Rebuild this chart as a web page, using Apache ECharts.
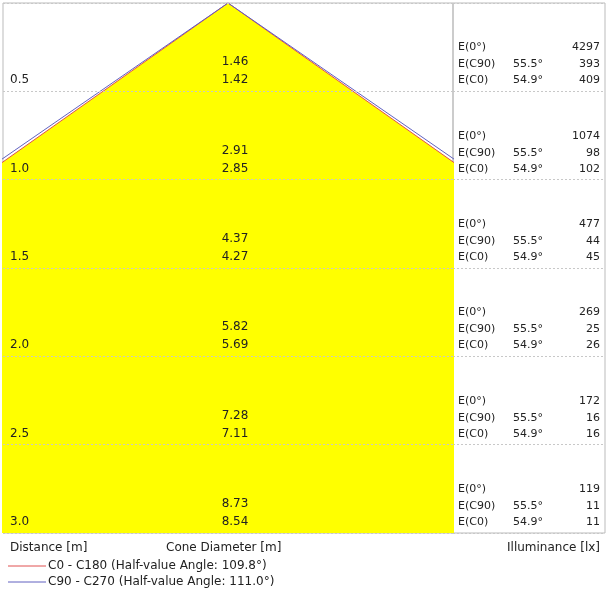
<!DOCTYPE html>
<html><head><meta charset="utf-8">
<script src="https://cdn.jsdelivr.net/npm/echarts@6/dist/echarts.min.js"></script>
<style>html,body{margin:0;padding:0;background:#fff}#c{width:608px;height:608px}</style>
</head><body><div id="c"></div>
<script>
const distances = [0.5, 1.0, 1.5, 2.0, 2.5, 3.0];
const diamC90 = [1.46, 2.91, 4.37, 5.82, 7.28, 8.73];
const diamC0 = [1.42, 2.85, 4.27, 5.69, 7.11, 8.54];
const eAxis = [4297, 1074, 477, 269, 172, 119];
const eC90 = [393, 98, 44, 25, 16, 11];
const eC0 = [409, 102, 45, 26, 16, 11];
const angleC90 = '55.5°', angleC0 = '54.9°';
const legendNames = ['C0 - C180 (Half-value Angle: 109.8°)', 'C90 - C270 (Half-value Angle: 111.0°)'];

const FONT = 'DejaVu Sans';
const chart = echarts.init(document.getElementById('c'));
const last = distances.length - 1;
const cone = (d) => [[-d[last] / 2, distances[last]], [0, 0], [d[last] / 2, distances[last]]];
const split = {show: true, lineStyle: {color: '#c8c8c8', type: [2, 2], width: 1}};
chart.setOption({
  animation: false,
  grid: [
    {left: 3, right: 155, top: 3, bottom: 75, show: true, borderColor: '#bbb', borderWidth: 1},
    {left: 453, right: 3, top: 3, bottom: 75, show: true, borderColor: '#bbb', borderWidth: 1}
  ],
  xAxis: [
    {type: 'value', gridIndex: 0, min: -1.28, max: 1.28, show: false},
    {type: 'value', gridIndex: 1, min: 0, max: 1, show: false}
  ],
  yAxis: [
    {type: 'value', gridIndex: 0, inverse: true, min: 0, max: 3, interval: 0.5,
     axisLine: {show: false}, axisTick: {show: false}, axisLabel: {show: false}, splitLine: split, z: 5},
    {type: 'value', gridIndex: 1, inverse: true, min: 0, max: 3, interval: 0.5,
     axisLine: {show: false}, axisTick: {show: false}, axisLabel: {show: false}, splitLine: split}
  ],
  series: [
    {type: 'line', name: legendNames[0], data: cone(diamC0), symbol: 'none', clip: true,
     lineStyle: {color: '#e05050', width: 1}, areaStyle: {color: '#ffff00', opacity: 1, origin: 'end'}},
    {type: 'line', name: legendNames[1], data: cone(diamC90), symbol: 'none', clip: true,
     lineStyle: {color: '#6060c0', width: 1}}
  ]
});

const g = [];
const txt = (x, y, s, align, size) => g.push({type: 'text', x, y, style: {text: s, font: (size || 12) + 'px "' + FONT + '"', fill: '#222', align: align || 'left', verticalAlign: 'middle'}, z: 100});
distances.forEach((d, i) => {
  const yb = chart.convertToPixel({yAxisIndex: 0}, d);
  txt(10, yb - 11, d.toFixed(1));
  const cx = chart.convertToPixel({xAxisIndex: 0}, 0) + 7;
  txt(cx, yb - 29, diamC90[i].toFixed(2), 'center');
  txt(cx, yb - 11, diamC0[i].toFixed(2), 'center');
  txt(458, yb - 44, 'E(0°)', 'left', 11);
  txt(600, yb - 44, String(eAxis[i]), 'right', 11);
  txt(458, yb - 27, 'E(C90)', 'left', 11);
  txt(513, yb - 27, angleC90, 'left', 11);
  txt(600, yb - 27, String(eC90[i]), 'right', 11);
  txt(458, yb - 11, 'E(C0)', 'left', 11);
  txt(513, yb - 11, angleC0, 'left', 11);
  txt(600, yb - 11, String(eC0[i]), 'right', 11);
});
txt(10, 548, 'Distance [m]');
txt(166, 548, 'Cone Diameter [m]');
txt(600, 548, 'Illuminance [lx]', 'right');
g.push({type: 'line', shape: {x1: 8, y1: 566, x2: 46, y2: 566}, style: {stroke: '#e05050', lineWidth: 1}});
g.push({type: 'line', shape: {x1: 8, y1: 582, x2: 46, y2: 582}, style: {stroke: '#6060c0', lineWidth: 1}});
txt(48, 566, legendNames[0]);
txt(48, 582, legendNames[1]);
chart.setOption({graphic: g});
</script></body></html>
